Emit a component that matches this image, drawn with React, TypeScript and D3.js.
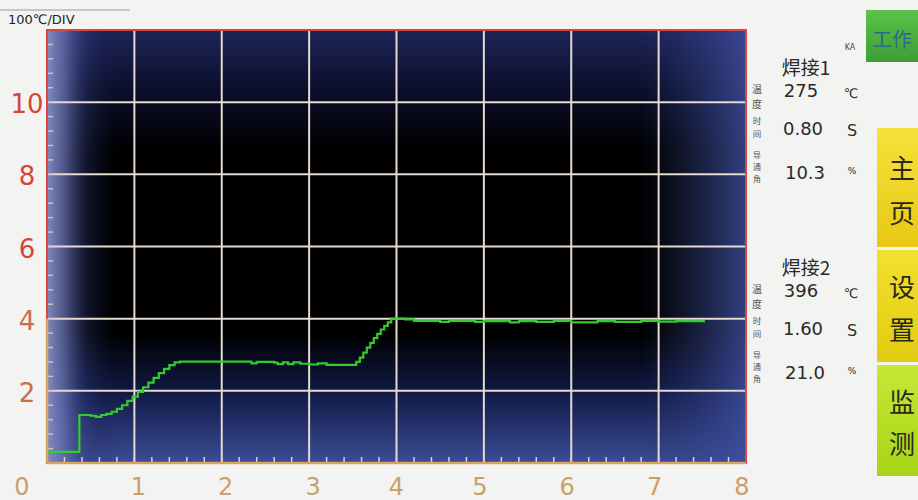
import React from "react";
import * as d3 from "d3";

// Temperature profile: time in seconds, temperature in DIV (100 ℃ per division)
const times = [
  0, 0.37, 0.5, 0.56, 0.62, 0.68, 0.74, 0.8, 0.86, 0.92, 0.98, 1.04, 1.1, 1.16, 1.22, 1.28, 1.34, 1.4, 1.46, 1.52,
  2.0, 2.3, 2.34, 2.4, 2.6, 2.64, 2.7, 2.76, 2.82, 2.9, 3.0, 3.1, 3.2, 3.5,
  3.54, 3.58, 3.62, 3.66, 3.7, 3.74, 3.78, 3.82, 3.86, 3.9, 3.94, 4.1, 4.2,
  4.5, 4.6, 4.9, 5.0, 5.3, 5.4, 5.6, 5.8, 6.0, 6.3, 6.5, 6.8, 7.0, 7.2, 7.53,
];
const temps = [
  0.31, 1.33, 1.31, 1.28, 1.33, 1.36, 1.42, 1.5, 1.6, 1.72, 1.84, 1.97, 2.1, 2.23, 2.36, 2.49, 2.61, 2.71, 2.79, 2.81,
  2.81, 2.81, 2.76, 2.8, 2.78, 2.74, 2.79, 2.74, 2.79, 2.75, 2.73, 2.76, 2.72, 2.72,
  2.8, 2.92, 3.06, 3.2, 3.33, 3.46, 3.58, 3.7, 3.8, 3.9, 4.0, 3.98, 3.94,
  3.91, 3.94, 3.91, 3.93, 3.9, 3.93, 3.91, 3.94, 3.9, 3.93, 3.91, 3.94, 3.92, 3.93, 3.93,
];

const xTicks = [0, 1, 2, 3, 4, 5, 6, 7, 8];
const yTicks = [2, 4, 6, 8, 10];
const yLabels = ["2", "4", "6", "8", "10"];

const weld1 = { title: "焊接1", temp: "275", time: "0.80", angle: "10.3" };
const weld2 = { title: "焊接2", temp: "396", time: "1.60", angle: "21.0" };
const buttons = [
  { label: ["主", "页"], y0: 128, y1: 247, c0: "#f6e23a", c1: "#e8c814" },
  { label: ["设", "置"], y0: 250, y1: 362, c0: "#f2e030", c1: "#e2cc10" },
  { label: ["监", "测"], y0: 365, y1: 476, c0: "#c8e834", c1: "#a8d418" },
];

const W = 918;
const H = 500;
const L = 47, R = 746, T = 30, B = 463;

export default function App() {
  const x = d3.scaleLinear().domain([0, 8]).range([L, R]);
  const y = d3.scaleLinear().domain([0, 12]).range([B, T]);
  const pts = times.map((t, i) => [t, temps[i]] as [number, number]);
  const line = d3
    .line<[number, number]>()
    .x((d) => x(d[0]))
    .y((d) => y(d[1]))
    .curve(d3.curveStepAfter);

  const minorX = d3.range(0, 8.001, 0.2);
  const minorY = d3.range(0, 12.001, 0.4);
  const sans = "'Noto Sans CJK SC', 'DejaVu Sans', sans-serif";
  const num = "'DejaVu Sans', sans-serif";

  const side = (chars: string[], y0: number, step: number, size: number) =>
    chars.map((c, i) => (
      <text key={c} x={757} y={y0 + i * step} fontSize={size} fontFamily={sans} textAnchor="middle"
        dominantBaseline="central" fill="#555">{c}</text>
    ));

  const panel = (w: typeof weld1, top: number) => (
    <g fill="#2a2a2a">
      <text x={806} y={top - 2} fontFamily={sans} fontSize={19} textAnchor="middle" dominantBaseline="central">{w.title}</text>
      <text x={801} y={top + 22} fontFamily={num} fontSize={18} textAnchor="middle" dominantBaseline="central">{w.temp}</text>
      <text x={851} y={top + 25} fontFamily={num} fontSize={13} textAnchor="middle" dominantBaseline="central">℃</text>
      <text x={803} y={top + 60} fontFamily={num} fontSize={18} textAnchor="middle" dominantBaseline="central">{w.time}</text>
      <text x={852} y={top + 62} fontFamily={num} fontSize={16} textAnchor="middle" dominantBaseline="central">S</text>
      <text x={805} y={top + 104} fontFamily={num} fontSize={18} textAnchor="middle" dominantBaseline="central">{w.angle}</text>
      <text x={852} y={top + 103} fontFamily={num} fontSize={9} textAnchor="middle" dominantBaseline="central">%</text>
      {side(["温", "度"], top + 20, 15, 10)}
      {side(["时", "间"], top + 52, 13, 8.5)}
      {side(["导", "通", "角"], top + 86, 12, 8)}
    </g>
  );

  return (
    <svg width={W} height={H} style={{ position: "absolute", left: 0, top: 0, display: "block" }}>
      <defs>
        <linearGradient id="bgV" x1="0" y1="0" x2="0" y2="1">
          <stop offset="0%" stopColor="#1e2558" />
          <stop offset="14%" stopColor="#0b0f2a" />
          <stop offset="28%" stopColor="#000000" />
          <stop offset="70%" stopColor="#000000" />
          <stop offset="84%" stopColor="#111a46" />
          <stop offset="100%" stopColor="#3c4c96" />
        </linearGradient>
        <linearGradient id="bgH" x1="0" y1="0" x2="1" y2="0">
          <stop offset="0%" stopColor="#8890c8" stopOpacity={0.95} />
          <stop offset="2.5%" stopColor="#6a74b4" stopOpacity={0.75} />
          <stop offset="5.5%" stopColor="#3a4488" stopOpacity={0.35} />
          <stop offset="10%" stopColor="#101840" stopOpacity={0} />
          <stop offset="85%" stopColor="#2a3878" stopOpacity={0} />
          <stop offset="100%" stopColor="#4050a0" stopOpacity={0.8} />
        </linearGradient>
        {buttons.map((b, i) => (
          <linearGradient key={i} id={`btn${i}`} x1="0" y1="0" x2="0" y2="1">
            <stop offset="0%" stopColor={b.c0} />
            <stop offset="100%" stopColor={b.c1} />
          </linearGradient>
        ))}
        <linearGradient id="btnTop" x1="0" y1="0" x2="0" y2="1">
          <stop offset="0%" stopColor="#5cc24a" />
          <stop offset="100%" stopColor="#3e9e36" />
        </linearGradient>
      </defs>

      <rect x={0} y={0} width={W} height={H} fill="#f3f3f1" />
      <line x1={0} x2={130} y1={10} y2={10} stroke="#9a9a9a" strokeWidth={1} />
      <text x={8} y={24} fontFamily={num} fontSize={13} fill="#222">100℃/DIV</text>

      {/* plot background */}
      <rect x={L} y={T} width={R - L} height={B - T} fill="url(#bgV)" />
      <rect x={L} y={T} width={R - L} height={B - T} fill="url(#bgH)" />

      {/* grid */}
      {xTicks.slice(1, -1).map((v) => (
        <line key={`gx${v}`} x1={x(v)} x2={x(v)} y1={T} y2={B} stroke="#e4dad0" strokeWidth={2} />
      ))}
      {yTicks.map((v) => (
        <line key={`gy${v}`} x1={L} x2={R} y1={y(v)} y2={y(v)} stroke="#e4dad0" strokeWidth={2} />
      ))}

      {/* minor ticks */}
      {minorX.map((v, i) => (
        <line key={`mx${i}`} x1={x(v)} x2={x(v)} y1={B} y2={B - 6} stroke="#d8d4d0" strokeWidth={1.5} />
      ))}
      {minorY.map((v, i) => (
        <line key={`my${i}`} x1={L} x2={L + 6} y1={y(v)} y2={y(v)} stroke="#c8c4d0" strokeWidth={1.5} />
      ))}

      {/* temperature curve */}
      <path d={line(pts) ?? ""} fill="none" stroke="#33cc2c" strokeWidth={2.2} />

      {/* frame */}
      <rect x={L} y={T} width={R - L} height={B - T} fill="none" stroke="#d9463e" strokeWidth={2} />
      <line x1={L} x2={R} y1={B} y2={B} stroke="#d6a45e" strokeWidth={2.5} />
      <line x1={L} x2={L} y1={y(4)} y2={B} stroke="#d6a45e" strokeWidth={2.5} />

      {/* axis labels */}
      {yTicks.map((v, i) => (
        <text key={`ly${v}`} x={27} y={y(v) + 2} fontFamily={num} fontSize={26}
          fill={v >= 6 ? "#d8443c" : "#c8704c"} textAnchor="middle" dominantBaseline="central">{yLabels[i]}</text>
      ))}
      {xTicks.map((v) => (
        <text key={`lx${v}`} x={v === 0 ? x(v) - 25 : x(v) + (v < 4 ? 4 : v === 4 ? 0 : -4)} y={487}
          fontFamily={num} fontSize={24} fill="#c9a06a" textAnchor="middle" dominantBaseline="central">{v}</text>
      ))}

      {/* readout panel */}
      <text x={850} y={50} fontFamily={num} fontSize={8} fill="#444" textAnchor="middle">KA</text>
      {panel(weld1, 68)}
      {panel(weld2, 268)}

      {/* side buttons */}
      <rect x={866} y={10} width={60} height={52} fill="url(#btnTop)" />
      <text x={872} y={38} fontFamily={sans} fontSize={20} fill="#2a6a8a" dominantBaseline="central">工作</text>
      {buttons.map((b, i) => (
        <g key={i}>
          <rect x={877} y={b.y0} width={45} height={b.y1 - b.y0} fill={`url(#btn${i})`} />
          {b.label.map((c, j) => (
            <text key={c} x={902} y={b.y0 + (b.y1 - b.y0) * (j === 0 ? 0.32 : 0.7)} fontFamily={sans} fontSize={26}
              fill="#2a2a1a" textAnchor="middle" dominantBaseline="central">{c}</text>
          ))}
        </g>
      ))}
    </svg>
  );
}
